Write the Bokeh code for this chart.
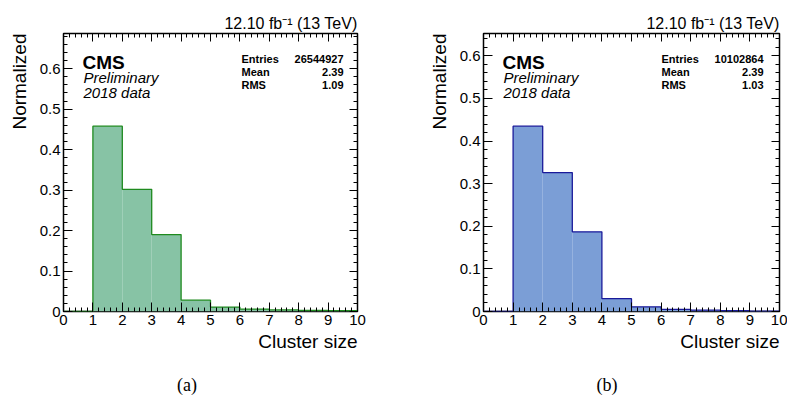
from bokeh.plotting import figure
from bokeh.layouts import row, column
from bokeh.models import Range1d, Label, LinearAxis, SingleIntervalTicker, Title, Div
from bokeh.embed import file_html
from bokeh.resources import INLINE

# ---------------- data ----------------
bin_edges = [0, 1, 2, 3, 4, 5, 6, 7, 8, 9, 10]
norm_a = [0.0, 0.458, 0.302, 0.190, 0.028, 0.011, 0.006, 0.004, 0.003, 0.002]
norm_b = [0.0, 0.435, 0.326, 0.187, 0.030, 0.011, 0.005, 0.003, 0.002, 0.001]
stats_a = ["26544927", "2.39", "1.09"]
stats_b = ["10102864", "2.39", "1.03"]
stat_names = ["Entries", "Mean", "RMS"]
x_title = "Cluster size"
y_title = "Normalized"
lumi_text = "12.10 fb\u207b\u00b9 (13 TeV)"
captions = ["(a)", "(b)"]

SANS = "Liberation Sans"
SERIF = "Liberation Serif"
FRAME_W = 295
FRAME_TOP = 33
FRAME_BOTTOM = 311
FIG_H = 376
CAP_H = 21


def put(p, fl, x, y, text, size, align="left", style="normal"):
    p.add_layout(Label(x=x - fl, y=FRAME_BOTTOM - y, x_units="screen", y_units="screen",
                       text=text, text_font=SANS, text_font_size=f"{size}px",
                       text_font_style=style, text_align=align,
                       text_baseline="alphabetic", text_color="black"))


def make_panel(vals, stats, fill, line, width, bl, br):
    ymax = max(vals) * 1.5
    p = figure(width=width, height=FIG_H, x_range=Range1d(0, 10), y_range=Range1d(0, ymax),
               output_backend="svg", toolbar_location=None,
               min_border_left=bl, min_border_right=br,
               min_border_top=FRAME_TOP, min_border_bottom=FIG_H - FRAME_BOTTOM)
    p.grid.visible = False
    p.background_fill_color = "white"
    p.border_fill_color = "white"
    p.outline_line_color = "black"
    p.outline_line_width = 1.5

    xt = SingleIntervalTicker(interval=1, num_minor_ticks=5)
    yt = SingleIntervalTicker(interval=0.1, num_minor_ticks=5)
    p.xaxis.ticker = xt
    p.yaxis.ticker = yt
    for ax in (p.xaxis[0], p.yaxis[0]):
        ax.axis_line_color = None
        ax.major_tick_in = 9
        ax.major_tick_out = 0
        ax.minor_tick_in = 4
        ax.minor_tick_out = 0
        ax.major_tick_line_color = "black"
        ax.minor_tick_line_color = "black"
        ax.major_label_text_font = SANS
        ax.major_label_text_font_size = "15px"
        ax.major_label_text_color = "black"
    p.xaxis.major_label_standoff = 3
    p.yaxis.major_label_standoff = 3
    p.yaxis.major_label_overrides = {0: "0"}

    for loc, tk in (("above", xt), ("right", yt)):
        ax = LinearAxis(ticker=tk, axis_line_color=None, major_tick_in=8, major_tick_out=0,
                        minor_tick_in=4, minor_tick_out=0, major_label_text_font_size="1px",
                        major_label_text_color=None, major_label_standoff=0,
                        major_tick_line_color="black", minor_tick_line_color="black")
        p.add_layout(ax, loc)

    # titles outside the frame
    p.add_layout(Title(text=lumi_text, align="right", text_font=SANS, text_font_size="16px",
                       text_font_style="normal", text_color="black", standoff=4), "above")
    p.add_layout(Title(text=y_title, align="right", text_font=SANS, text_font_size="19px",
                       text_font_style="normal", text_color="black", standoff=13), "left")
    p.add_layout(Title(text=x_title, align="right", text_font=SANS, text_font_size="19px",
                       text_font_style="normal", text_color="black", standoff=2), "below")

    p.quad(left=bin_edges[:-1], right=bin_edges[1:], bottom=0, top=vals,
           fill_color=fill, line_color=None)
    p.step(x=bin_edges, y=list(vals) + [0.0], mode="after", line_color=line, line_width=1.3)

    fl = bl
    fr = fl + FRAME_W
    put(p, fl, fl + 19, 62, "CMS", 19, "left", "bold")
    put(p, fl, fl + 20, 77, "Preliminary", 15, "left", "italic")
    put(p, fl, fl + 20, 92, "2018 data", 15, "left", "italic")
    for i, (nm, sv) in enumerate(zip(stat_names, stats)):
        yy = 58 + i * 13.3
        put(p, fl, fl + 178, yy, nm, 11, "left", "bold")
        put(p, fl, fr - 15, yy, sv, 11, "right", "bold")
    return p


def caption_div(text, width, center):
    html = ("<div style=\"width:%dpx;text-align:center;font-family:'Liberation Serif',serif;"
            "font-size:18px;line-height:18px;color:black;\">%s</div>" % (2 * center, text))
    return Div(text=html, width=width, height=CAP_H, margin=0)


W1, W2 = 420, 367
p1 = make_panel(norm_a, stats_a, "#87c3a5", "#1f8a1f", W1, 62, 63)
p2 = make_panel(norm_b, stats_b, "#7b9ed6", "#1a1a9a", W2, 63, 8)

layout = column(row(p1, p2), row(caption_div(captions[0], W1, 187),
                                 caption_div(captions[1], W2, 187)))
open("out.html", "w").write(file_html(layout, INLINE))
